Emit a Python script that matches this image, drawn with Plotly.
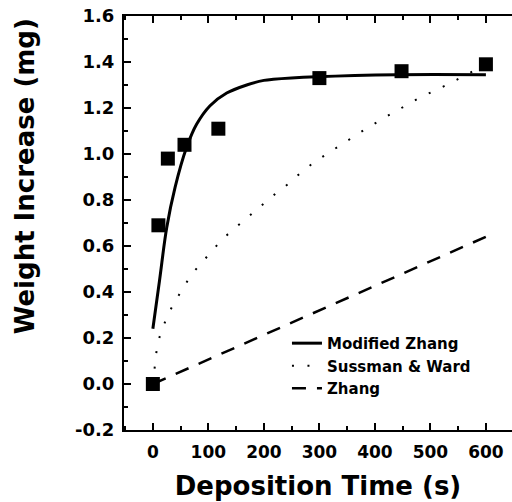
import plotly.graph_objects as go

# Measured data (deposition time in s, weight increase in mg)
meas_t = [0, 10, 27, 57, 118, 300, 448, 600]
meas_w = [0.0, 0.69, 0.98, 1.04, 1.11, 1.33, 1.36, 1.39]

# Modified Zhang model curve
mz_t = [0, 12, 25, 40, 61, 79, 103, 133, 169, 200, 217, 295, 440, 600]
mz_w = [0.24, 0.45, 0.68, 0.855, 1.03, 1.13, 1.21, 1.265, 1.30, 1.32, 1.325, 1.336, 1.345, 1.345]

# Sussman & Ward model curve
sw_t = [0, 2, 5, 8, 14, 22, 31, 43, 55, 71, 89, 107, 125, 149, 197, 217, 244, 267,
        291, 338, 384, 433, 481, 529, 577, 600]
sw_w = [0.0, 0.06, 0.11, 0.17, 0.22, 0.27, 0.32, 0.37, 0.42, 0.48, 0.53, 0.58, 0.63,
        0.68, 0.78, 0.82, 0.87, 0.92, 0.965, 1.04, 1.11, 1.18, 1.245, 1.30, 1.36, 1.38]

# Zhang model curve
z_t = [0, 300, 600]
z_w = [0.0, 0.32, 0.64]

x_ticks = [0, 100, 200, 300, 400, 500, 600]
y_ticks = [-0.2, 0.0, 0.2, 0.4, 0.6, 0.8, 1.0, 1.2, 1.4, 1.6]

FONT = "DejaVu Sans"

fig = go.Figure()
fig.add_trace(go.Scatter(x=mz_t, y=mz_w, mode="lines", name="Modified Zhang",
                         line=dict(color="black", width=3, shape="spline")))
fig.add_trace(go.Scatter(x=sw_t, y=sw_w, mode="lines", name="Sussman & Ward",
                         line=dict(color="black", width=2, dash="2px,13.5px")))
fig.add_trace(go.Scatter(x=z_t, y=z_w, mode="lines", name="Zhang",
                         line=dict(color="black", width=2.5, dash="14px,11px")))
fig.add_trace(go.Scatter(x=meas_t, y=meas_w, mode="markers", showlegend=False,
                         marker=dict(symbol="square", size=14, color="black")))

xtickfont = dict(family=FONT, size=17, color="black", weight="bold")
ytickfont = dict(family=FONT, size=18, color="black", weight="bold")

fig.update_layout(
    width=512, height=502,
    margin=dict(l=124, r=0, t=16, b=72, autoexpand=False),
    paper_bgcolor="white", plot_bgcolor="white",
    showlegend=True,
    legend=dict(x=0.42, y=0.249, xanchor="left", yanchor="top",
                bgcolor="rgba(0,0,0,0)", borderwidth=0,
                font=dict(family=FONT, size=15, color="black", weight="bold"),
                tracegroupgap=0),
    xaxis=dict(range=[-52, 647], tickmode="array", tickvals=x_ticks,
               ticktext=[str(v) for v in x_ticks], automargin=False,
               showgrid=False, zeroline=False, ticklabeloverflow="allow",
               showline=True, linecolor="black", linewidth=2, mirror="allticks",
               ticks="inside", ticklen=7, tickwidth=2, tickcolor="black",
               minor=dict(dtick=50, tick0=0, ticks="inside", ticklen=4, tickwidth=1.5,
                          tickcolor="black", showgrid=False),
               tickfont=xtickfont, ticklabelstandoff=6,
               title=dict(text="Deposition Time (s)", standoff=15,
                          font=dict(family=FONT, size=26, color="black", weight="bold"))),
    yaxis=dict(range=[-0.2, 1.6], tickmode="array", tickvals=y_ticks,
               ticktext=[f"{v:.1f}" for v in y_ticks], automargin=False,
               showgrid=False, zeroline=False, ticklabeloverflow="allow",
               showline=True, linecolor="black", linewidth=2, mirror=False,
               ticks="inside", ticklen=7, tickwidth=2, tickcolor="black",
               minor=dict(dtick=0.1, tick0=0, ticks="inside", ticklen=4, tickwidth=1.5,
                          tickcolor="black", showgrid=False),
               tickfont=ytickfont, ticklabelstandoff=4),
    yaxis2=dict(range=[-0.2, 1.6], overlaying="y", side="right", matches="y",
                tickmode="array", tickvals=y_ticks, showticklabels=False, automargin=False,
                showgrid=False, zeroline=False, showline=False,
                ticks="inside", ticklen=7, tickwidth=2, tickcolor="black",
                minor=dict(dtick=0.1, tick0=0, ticks="inside", ticklen=4, tickwidth=1.5,
                           tickcolor="black", showgrid=False)),
)

fig.add_annotation(text="Weight Increase (mg)", textangle=-90,
                   xref="paper", yref="paper", x=-0.255, y=0.613,
                   xanchor="center", yanchor="middle", showarrow=False,
                   font=dict(family=FONT, size=26, color="black", weight="bold"))

# remove the default 8px page margin so the 512x502 figure fills the window
fig.write_html("out.html", config={"displayModeBar": False},
               post_script="document.body.style.margin='0';document.body.style.overflow='hidden';")
